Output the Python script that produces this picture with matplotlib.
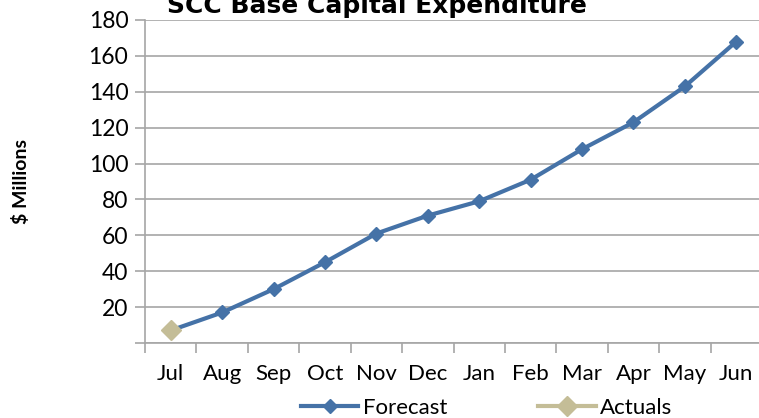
import matplotlib.pyplot as plt
import numpy as np

months = ['Jul', 'Aug', 'Sep', 'Oct', 'Nov', 'Dec', 'Jan', 'Feb', 'Mar', 'Apr', 'May', 'Jun']
forecast = [7, 17, 30, 45, 61, 71, 79, 91, 108, 123, 143, 168]
actuals = [7]

plt.rcParams['font.family'] = ['Lato', 'DejaVu Sans']

fig = plt.figure(figsize=(7.59, 4.18), dpi=100)
ax = fig.add_axes([145 / 759, 75 / 418, 617 / 759, 323 / 418])

x = np.arange(len(months))
l1, = ax.plot(x, forecast, color='#4572A7', lw=3, marker='D', ms=7, label='Forecast')
l2, = ax.plot(x[:len(actuals)], actuals, color='#C4BD97', lw=3, marker='D', ms=10, label='Actuals')

ax.set_xlim(-0.5, 11.5)
ax.set_ylim(0, 180)
ax.set_yticks(range(0, 181, 20))
ax.set_yticklabels([''] + [str(v) for v in range(20, 181, 20)], fontsize=16.5)
ax.yaxis.grid(True, color='#a6a6a6', lw=1.2)
ax.set_axisbelow(True)

ax.set_xticks(np.arange(-0.5, 11.5, 1))
ax.set_xticklabels([])
ax.set_xticks(x, minor=True)
ax.set_xticklabels(months, minor=True, fontsize=16)
ax.tick_params(axis='x', which='minor', length=0, pad=15)
ax.tick_params(axis='x', which='major', length=7, color='#a6a6a6', width=1.2)
ax.tick_params(axis='y', length=7, color='#a6a6a6', width=1.2, pad=5)

for s in ['top', 'right']:
    ax.spines[s].set_visible(False)
for s in ['left', 'bottom']:
    ax.spines[s].set_color('#a6a6a6')
    ax.spines[s].set_linewidth(1.2)

ax.set_ylabel('$ Millions', fontsize=14, fontweight='bold', labelpad=42)
fig.text(0.497, 0.985, 'SCC Base Capital Expenditure', ha='center', va='center',
         fontsize=18, fontweight='heavy', family=['DejaVu Sans'])

fig.legend(handles=[l1], loc='center', bbox_to_anchor=(374 / 759, 10 / 418), frameon=False,
           fontsize=16, handlelength=2.6, handletextpad=0.2, borderpad=0)
fig.legend(handles=[l2], loc='center', bbox_to_anchor=(605 / 759, 10 / 418), frameon=False,
           fontsize=16, handlelength=2.6, handletextpad=0.2, borderpad=0)

fig.savefig('out.png', dpi=100)
